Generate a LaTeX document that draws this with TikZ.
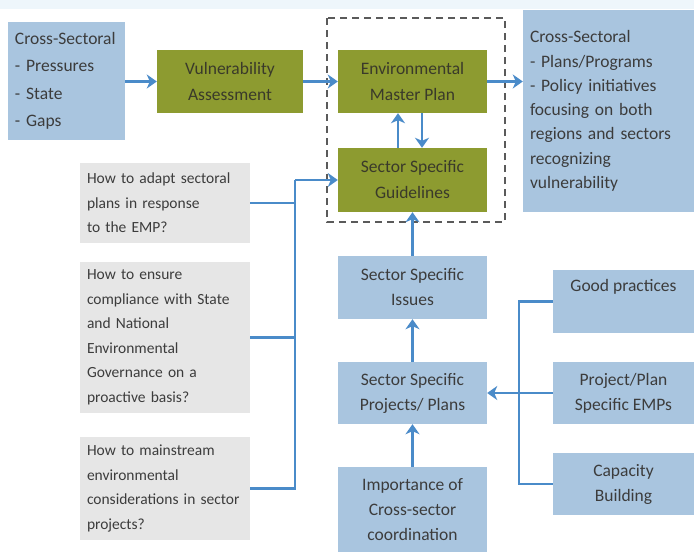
\documentclass[tikz,border=0pt]{standalone}
\usepackage{fontspec}
\setmainfont{Carlito}
\usetikzlibrary{arrows.meta}
\definecolor{bluebx}{HTML}{A9C5DF}
\definecolor{greenbx}{HTML}{8D9B30}
\definecolor{graybx}{HTML}{E6E6E6}
\definecolor{arrowc}{HTML}{4A8BC9}
\definecolor{txt}{HTML}{3C3C3C}
\definecolor{gtxt}{HTML}{3A3A2A}
\definecolor{topbg}{HTML}{EEF6FB}
\definecolor{dashc}{HTML}{5A5A5A}
\tikzset{
  bbox/.style={fill=bluebx, inner xsep=7pt, inner ysep=0pt, text=txt, font=\fontsize{17.5}{25}\selectfont, align=center},
  gbox/.style={fill=greenbx, inner xsep=6pt, inner ysep=0pt, text=gtxt, font=\fontsize{17.5}{26}\selectfont, align=center, minimum width=149pt, minimum height=63pt},
  qbox/.style={fill=graybx, inner xsep=7pt, inner ysep=0pt, text=txt, font=\fontsize{15.5}{24.5}\selectfont, align=left, text width=156pt},
  arr/.style={draw=arrowc, line width=2.4pt, -{Stealth[length=10pt,width=14pt,inset=3pt]}},
  ln/.style={draw=arrowc, line width=2.4pt}
}
\begin{document}
\begin{tikzpicture}[x=1pt,y=-1pt]
\useasboundingbox (0,0) rectangle (694,552);
\fill[white] (0,0) rectangle (694,552);
\fill[topbg] (0,0) rectangle (694,9);

% top row
\node[bbox, text width=103pt, align=left, minimum height=118pt, font=\fontsize{17.5}{27.5}\selectfont] (cs1) at (66.5,81) {Cross-Sectoral\\- Pressures\\- State\\- Gaps};
\node[gbox, minimum width=146pt] (va) at (230,81.5) {Vulnerability\\Assessment};
\node[gbox] (emp) at (412.5,81.5) {Environmental\\Master Plan};
\node[gbox, minimum height=64pt] (ssg) at (412.5,180) {Sector Specific\\Guidelines};
\draw[dashc, line width=1.6pt, dash pattern=on 7pt off 5pt] (327,18) rectangle (505,222);
\node[bbox, text width=157pt, align=left, minimum height=202pt, font=\fontsize{17.5}{24.3}\selectfont] (cs2) at (608.5,111) {Cross-Sectoral\\- Plans/Programs\\- Policy initiatives\\focusing on both\\regions and sectors\\recognizing\\vulnerability};

% questions
\node[qbox, minimum height=80pt] (q1) at (165,203) {How to adapt sectoral\\plans in response\\to the EMP?};
\node[qbox, minimum height=151pt] (q2) at (165,337.5) {How to ensure\\compliance with State\\and National\\Environmental\\Governance on a\\proactive basis?};
\node[qbox, minimum height=103pt] (q3) at (165,488.5) {How to mainstream\\environmental\\considerations in sector\\projects?};

% middle column
\node[bbox, minimum width=149pt, minimum height=63pt] (ssi) at (412.5,287.5) {Sector Specific\\Issues};
\node[bbox, minimum width=149pt, minimum height=62pt] (sspp) at (412.5,393) {Sector Specific\\Projects/ Plans};
\node[bbox, minimum width=149pt, minimum height=85pt] (imp) at (412.5,509.5) {Importance of\\Cross-sector\\coordination};

% right column
\node[bbox, minimum width=141pt, minimum height=63pt] (gp) at (623.5,301.5) {Good practices\\\strut};
\node[bbox, minimum width=141pt, minimum height=62pt] (pe) at (623.5,393) {Project/Plan\\Specific EMPs};
\node[bbox, minimum width=141pt, minimum height=62pt] (cb) at (623.5,484) {Capacity\\Building};

\coordinate (lj) at (295,180);
\coordinate (rj) at (519,393);

% arrows top row
\draw[arr] (cs1.east |- va.west) -- (va.west);
\draw[arr] (va.east) -- (emp.west);
\draw[arr] (emp.east) -- (cs2.west |- emp.east);
\draw[arr] ([xshift=-14.5pt]ssg.north) -- ([xshift=-14.5pt]emp.south);
\draw[arr] ([xshift=9.5pt]emp.south) -- ([xshift=9.5pt]ssg.north);

% left connector
\draw[ln] (q1.east) -- (q1.east -| lj);
\draw[ln] (q2.east) -- (q2.east -| lj);
\draw[ln] (q3.east) -- (q3.east -| lj) -- (lj);
\draw[arr] (lj) -- (ssg.west);

% middle column arrows
\draw[arr] (ssi.north) -- (ssg.south);
\draw[arr] (sspp.north) -- (ssi.south);
\draw[arr] (imp.north) -- (sspp.south);

% right connector
\draw[ln] (gp.west) -- (gp.west -| rj) -- (cb.west -| rj) -- (cb.west);
\draw[arr] (pe.west) -- (sspp.east);
\end{tikzpicture}
\end{document}
